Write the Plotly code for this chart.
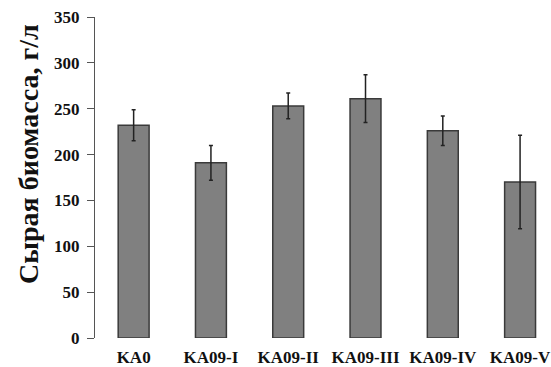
import plotly.graph_objects as go

# Fresh biomass per strain, g/l, with standard deviation
strains = ["KA0", "KA09-I", "KA09-II", "KA09-III", "KA09-IV", "KA09-V"]
biomass = [232, 191, 253, 261, 226, 170]
biomass_sd = [17, 19, 14, 26, 16, 51]
y_ticks = [0, 50, 100, 150, 200, 250, 300, 350]

font_family = "Liberation Serif, Times New Roman, serif"

fig = go.Figure(
    go.Bar(
        x=strains,
        y=biomass,
        width=0.4,
        marker=dict(color="#808080", line=dict(color="#3a3a3a", width=1.5)),
        error_y=dict(
            type="data",
            array=biomass_sd,
            visible=True,
            color="#222222",
            thickness=1.5,
            width=2,
        ),
    )
)

fig.update_layout(
    width=551,
    height=367,
    margin=dict(l=95, r=0, t=17, b=29),
    paper_bgcolor="white",
    plot_bgcolor="white",
    showlegend=False,
    font=dict(family=font_family, color="#111111"),
    xaxis=dict(
        type="category",
        range=[-0.5, 5.4],
        automargin=False,
        showline=False,
        showgrid=False,
        ticks="",
        ticklabelstandoff=7,
        tickfont=dict(family=font_family, size=17, color="#111111", weight="bold"),
    ),
    yaxis=dict(
        range=[0, 350],
        automargin=False,
        tickvals=y_ticks,
        ticktext=[str(v) for v in y_ticks],
        showline=True,
        linecolor="#555555",
        linewidth=1,
        showgrid=False,
        zeroline=False,
        ticks="outside",
        ticklen=7,
        tickcolor="#555555",
        ticklabelstandoff=4,
        tickfont=dict(family=font_family, size=17, color="#111111", weight="bold"),
    ),
    annotations=[
        dict(
            text="Сырая биомасса, г/л",
            xref="paper",
            yref="paper",
            x=-0.147,
            y=0.573,
            xanchor="center",
            yanchor="middle",
            textangle=-90,
            showarrow=False,
            font=dict(family=font_family, size=28, color="#111111", weight="bold"),
        )
    ],
)

fig.write_html("out.html")
